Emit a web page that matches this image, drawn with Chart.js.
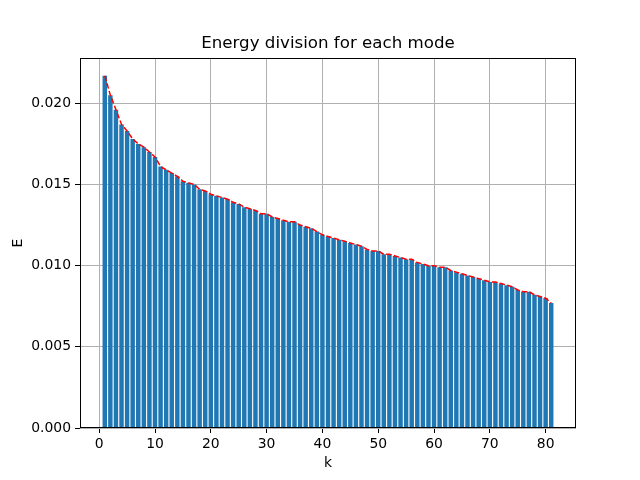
<!DOCTYPE html>
<html>
<head>
<meta charset="utf-8">
<script src="https://cdn.jsdelivr.net/npm/chart.js@4.4.0/dist/chart.umd.min.js"></script>
<style>
html,body{margin:0;padding:0;background:#fff;}
canvas{display:block;}
</style>
</head>
<body>
<canvas id="c" width="640" height="480"></canvas>
<script>
const modes = [];
for (let k = 1; k <= 81; k++) modes.push(k);
const energy = [
  0.0217, 0.0205, 0.0196, 0.0187, 0.0183, 0.0178, 0.0175, 0.0173, 0.0170, 0.0167,
  0.0161, 0.0159, 0.0157, 0.0155, 0.0152, 0.0151, 0.0150, 0.0147, 0.0146, 0.0144,
  0.0143, 0.0142, 0.0141, 0.0139, 0.0138, 0.0136, 0.0135, 0.0134, 0.0132, 0.0132,
  0.0130, 0.0129, 0.0128, 0.0127, 0.0127, 0.0125, 0.0124, 0.0123, 0.0121, 0.0119,
  0.0118, 0.0117, 0.0116, 0.0115, 0.0114, 0.0113, 0.0112, 0.0110, 0.0109, 0.0109,
  0.0107, 0.0107, 0.0106, 0.0105, 0.0104, 0.0104, 0.0102, 0.0101, 0.0100, 0.0100,
  0.0099, 0.0099, 0.0097, 0.0096, 0.0095, 0.0094, 0.0093, 0.0092, 0.0091, 0.0090,
  0.0090, 0.0089, 0.0088, 0.0087, 0.0085, 0.0084, 0.0084, 0.0082, 0.0081, 0.0080,
  0.0077
];
const xTicks = [0, 10, 20, 30, 40, 50, 60, 70, 80];
const yTicks = [0, 0.005, 0.010, 0.015, 0.020];
const titleText = 'Energy division for each mode';
const xLabel = 'k';
const yLabel = 'E';

const points = modes.map((k, i) => ({x: k, y: energy[i]}));

const frame = {
  id: 'frame',
  afterDatasetsDraw(chart) {
    const a = chart.chartArea, ctx = chart.ctx;
    ctx.save();
    ctx.strokeStyle = '#000';
    ctx.lineWidth = 1;
    ctx.strokeRect(Math.round(a.left) + 0.5, Math.round(a.top) + 0.5,
                   Math.round(a.right - a.left) - 1, Math.round(a.bottom - a.top) - 1);
    ctx.restore();
  }
};

const tickFont = {family: 'DejaVu Sans', size: 13.9};

new Chart(document.getElementById('c'), {
  type: 'bar',
  data: {
    datasets: [
      {
        type: 'line',
        data: points,
        borderColor: '#ff0000',
        borderWidth: 1.5,
        borderDash: [5.5, 2.4],
        pointRadius: 0,
        tension: 0,
        fill: false,
        order: 0
      },
      {
        type: 'bar',
        data: points,
        backgroundColor: '#1f77b4',
        borderWidth: 0,
        categoryPercentage: 1.0,
        barPercentage: 0.8,
        order: 1
      }
    ]
  },
  options: {
    responsive: false,
    devicePixelRatio: 1,
    animation: false,
    layout: {padding: {left: 0, right: 64, top: 0, bottom: 0}},
    plugins: {
      legend: {display: false},
      tooltip: {enabled: false},
      title: {
        display: true,
        fullSize: false,
        text: titleText,
        color: '#000',
        font: {family: 'DejaVu Sans', size: 16.67, weight: 'normal'},
        padding: {top: 34, bottom: 4}
      }
    },
    scales: {
      x: {
        type: 'linear',
        offset: false,
        min: -3.44,
        max: 85.44,
        afterBuildTicks: s => { s.ticks = xTicks.map(v => ({value: v})); },
        afterFit: s => { s.height = 52; },
        ticks: {
          color: '#000',
          font: tickFont,
          padding: 3,
          maxRotation: 0,
          autoSkip: false,
          callback: v => String(v)
        },
        grid: {offset: false, color: '#b0b0b0', lineWidth: 1, tickColor: '#000', tickLength: 5, tickWidth: 1},
        border: {display: false},
        title: {
          display: true,
          text: xLabel,
          color: '#000',
          font: tickFont,
          padding: {top: 0, bottom: 8}
        }
      },
      y: {
        type: 'linear',
        min: 0,
        max: 0.02279,
        afterBuildTicks: s => { s.ticks = yTicks.map(v => ({value: v})); },
        afterFit: s => { s.width = 80; },
        ticks: {
          color: '#000',
          font: tickFont,
          padding: 4,
          callback: v => Number(v).toFixed(3)
        },
        grid: {color: '#b0b0b0', lineWidth: 1, tickColor: '#000', tickLength: 5, tickWidth: 1},
        border: {display: false},
        title: {
          display: true,
          text: yLabel,
          color: '#000',
          font: tickFont,
          padding: {top: 10, bottom: 0}
        }
      }
    }
  },
  plugins: [frame]
});
</script>
</body>
</html>
